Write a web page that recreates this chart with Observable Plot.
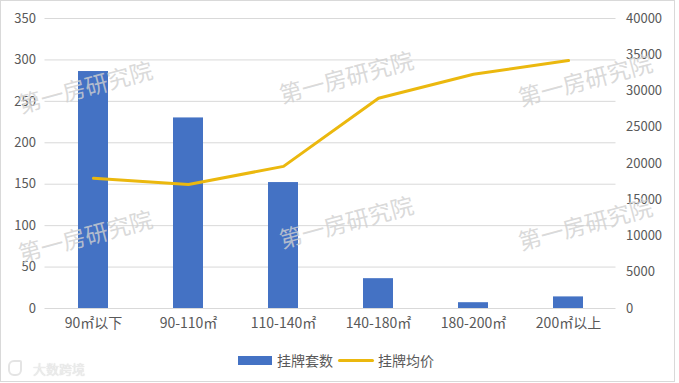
<!DOCTYPE html>
<html>
<head>
<meta charset="utf-8">
<script src="https://cdn.jsdelivr.net/npm/d3@7"></script>
<script src="https://cdn.jsdelivr.net/npm/@observablehq/plot@0.6"></script>
<style>
  body { margin: 0; background: #fff; }
  #wrap { position: relative; width: 679px; height: 383px; overflow: hidden; font-family: "Noto Sans CJK SC", "Liberation Sans", sans-serif; }
  #frame { position: absolute; left: 0; top: 0; width: 673px; height: 380px; border: 1px solid #d9d9d9; box-sizing: content-box; pointer-events: none; }
  #chart { position: absolute; left: 0; top: 0; }
  .wm { position: absolute; font-size: 23px; color: rgba(208,208,208,0.8); white-space: nowrap; transform: translate(-50%, -50%) rotate(-15deg); pointer-events: none; font-family: "Noto Sans CJK SC", sans-serif; }
  #legend { position: absolute; top: 350px; left: 238px; display: flex; align-items: center; font-size: 14px; color: #595959; line-height: 20px; }
  .sw-bar { width: 34px; height: 9px; background: #4472C4; margin-right: 5px; }
  .sw-line { width: 36px; height: 3px; background: #EBB80E; margin: 0 4px 0 5px; border-radius: 1.5px; }
  #logo { position: absolute; left: 33px; top: 359px; font-size: 13px; color: rgba(238,238,238,0.95); text-shadow: 0 0 1px #ccc; }
  #logo-icon { position: absolute; left: 8px; top: 360px; width: 10px; height: 12px; border: 2px solid rgba(225,225,225,0.9); border-radius: 6px 2px 6px 6px; }
  .x-tick text { font-size: 14px; }
</style>
</head>
<body>
<div id="wrap">
  <div id="chart"></div>
  <div id="legend">
    <div class="sw-bar"></div><span>挂牌套数</span>
    <div class="sw-line"></div><span>挂牌均价</span>
  </div>
  <div id="logo-icon"></div>
  <div id="logo">大数跨境</div>
  <div id="frame"></div>
</div>
<script>
const categories = ["90㎡以下", "90-110㎡", "110-140㎡", "140-180㎡", "180-200㎡", "200㎡以上"];
const listings = [286, 230, 152, 36, 7, 14];
const avgPrice = [17950, 17100, 19600, 29000, 32300, 34200];
const leftTicks = [0, 50, 100, 150, 200, 250, 300, 350];
const rightTicks = [0, 5000, 10000, 15000, 20000, 25000, 30000, 35000, 40000];
const watermarkText = "第一房研究院";
const watermarkSpots = [[85, 86], [346, 76], [585, 79], [85, 235], [346, 221], [585, 223]];

const k = 350 / 40000;
const data = categories.map((c, i) => ({ c, n: listings[i], p: avgPrice[i] }));

const chart = Plot.plot({
  width: 679,
  height: 335,
  marginTop: 18,
  marginBottom: 27,
  marginLeft: 44.5,
  marginRight: 63.5,
  style: { fontFamily: "'Noto Sans CJK SC', 'Liberation Sans', sans-serif", fontSize: "13px", color: "#595959", background: "transparent" },
  x: { domain: categories, paddingInner: 0.685, paddingOuter: 0.3425, label: null },
  y: { domain: [0, 350], label: null },
  marks: [
    Plot.ruleY(leftTicks, { stroke: "#d9d9d9", strokeWidth: 1 }),
    Plot.barY(data, { x: "c", y: "n", fill: "#4472C4" }),
    Plot.line(data, { x: "c", y: d => d.p * k, stroke: "#EBB80E", strokeWidth: 3, strokeLinejoin: "round", strokeLinecap: "round" }),
    Plot.axisY(leftTicks, { anchor: "left", tickSize: 0, tickPadding: 9, label: null }),
    Plot.axisY(rightTicks.map(v => v * k), { anchor: "right", tickSize: 0, tickPadding: 10, tickFormat: d => String(Math.round(d / k)), label: null }),
    Plot.axisX({ tickSize: 0, tickPadding: 10, label: null, fontSize: 14 })
  ]
});
document.getElementById("chart").appendChild(chart);

const wrap = document.getElementById("wrap");
for (const [x, y] of watermarkSpots) {
  const d = document.createElement("div");
  d.className = "wm";
  d.style.left = x + "px";
  d.style.top = y + "px";
  d.textContent = watermarkText;
  wrap.appendChild(d);
}
</script>
</body>
</html>
